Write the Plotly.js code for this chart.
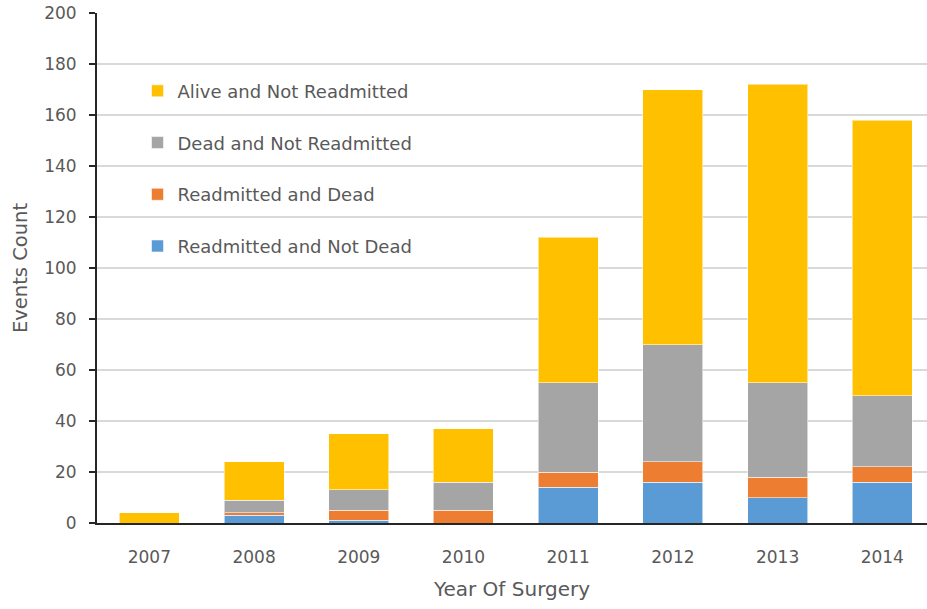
<!DOCTYPE html>
<html>
<head>
<meta charset="utf-8">
<script src="https://cdn.plot.ly/plotly-3.0.1.min.js"></script>
<style>
  html, body { margin: 0; padding: 0; background: #ffffff; }
  #chart { width: 927px; height: 609px; }
</style>
</head>
<body>
<div id="chart"></div>
<script>
// Surgical outcomes by year of surgery, stacked event counts
const years = ['2007', '2008', '2009', '2010', '2011', '2012', '2013', '2014'];

const readmittedNotDead = [0, 3, 1, 0, 14, 16, 10, 16];
const readmittedDead = [0, 1, 4, 5, 6, 8, 8, 6];
const deadNotReadmitted = [0, 5, 8, 11, 35, 46, 37, 28];
const aliveNotReadmitted = [4, 15, 22, 21, 57, 100, 117, 108];

const seriesNames = [
  'Readmitted and Not Dead',
  'Readmitted and Dead',
  'Dead and Not Readmitted',
  'Alive and Not Readmitted'
];
const seriesValues = [readmittedNotDead, readmittedDead, deadNotReadmitted, aliveNotReadmitted];
const seriesColors = ['#5B9BD5', '#ED7D31', '#A5A5A5', '#FFC000'];

const FONT = '"DejaVu Sans", sans-serif';
const TEXT = '#595959';

// stacked bottom-to-top; the legend lists the top segment first
const traces = seriesNames.map((name, i) => ({
  type: 'bar',
  name: name,
  x: years,
  y: seriesValues[i],
  legendgroup: 'g' + i,
  legendrank: seriesNames.length - i,
  marker: {
    color: seriesColors[i],
    line: { color: 'rgba(255,255,255,0.55)', width: 1 }
  },
  hoverinfo: 'x+y+name'
}));

const layout = {
  width: 927,
  height: 609,
  margin: { l: 97, r: 0, t: 13, b: 86 },
  paper_bgcolor: '#ffffff',
  plot_bgcolor: '#ffffff',
  barmode: 'stack',
  bargap: 0.427,
  font: { family: FONT, color: TEXT, size: 16 },
  showlegend: true,
  legend: {
    x: 0.0488,
    y: 0.883,
    xanchor: 'left',
    yanchor: 'top',
    traceorder: 'grouped',
    tracegroupgap: 25.3,
    bgcolor: 'rgba(255,255,255,0)',
    font: { family: FONT, color: TEXT, size: 18 }
  },
  xaxis: {
    type: 'category',
    range: [-0.5, 7.427],
    showline: true,
    linecolor: '#262626',
    linewidth: 2,
    ticks: '',
    showgrid: false,
    tickfont: { family: FONT, color: TEXT, size: 17 },
    ticklabelstandoff: 18,
    title: { text: 'Year Of Surgery', font: { family: FONT, color: TEXT, size: 20 }, standoff: 16 },
    fixedrange: true
  },
  yaxis: {
    range: [0, 200],
    tickmode: 'linear',
    tick0: 0,
    dtick: 20,
    showline: true,
    linecolor: '#262626',
    linewidth: 2,
    ticks: 'outside',
    ticklen: 6,
    tickcolor: '#262626',
    tickwidth: 1.5,
    ticklabelstandoff: 9,
    showgrid: true,
    gridcolor: '#D9D9D9',
    gridwidth: 1.5,
    zeroline: false,
    tickfont: { family: FONT, color: TEXT, size: 17 },
    title: { text: 'Events Count', font: { family: FONT, color: TEXT, size: 19.5 }, standoff: 11 },
    fixedrange: true
  }
};

Plotly.newPlot('chart', traces, layout, { displayModeBar: false, staticPlot: true });
</script>
</body>
</html>
